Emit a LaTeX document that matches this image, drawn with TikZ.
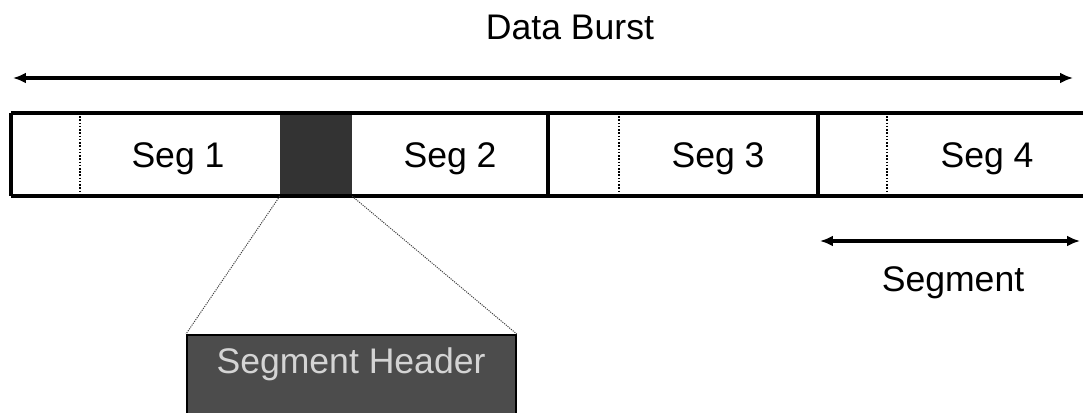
\documentclass[tikz,border=0pt]{standalone}
\usepackage{fontspec}
\setmainfont{Liberation Sans}
\usepackage{tikz}
\usetikzlibrary{arrows.meta, positioning}
\definecolor{headercolor}{rgb}{0.2, 0.2, 0.2}
\definecolor{boxcolor}{rgb}{0.3, 0.3, 0.3}
\definecolor{lettercolor}{rgb}{0.83, 0.83, 0.83}

\begin{document}
\begin{tikzpicture}[x=0.025cm, y=-0.025cm,
    every node/.style={font=\fontsize{25.3}{30}\selectfont},
    barline/.style={line width=2.4pt},
    gapline/.style={line width=1.6pt, dash pattern=on 1.1pt off 1.2pt},
    zoomline/.style={line width=0.7pt, dash pattern=on 0.8pt off 0.8pt, black!75},
    spanarrow/.style={line width=2.2pt, {Latex[length=0.32cm,width=0.27cm]}-{Latex[length=0.32cm,width=0.27cm]}}]
        \clip (0,0) rectangle (1083,413);

        % burst and its segments
        \node[fill=headercolor, minimum width=1.8cm, minimum height=2.075cm, inner sep=0pt] (hdr) at (316,154.5) {};

        \draw[barline] (11,113) -- (1100,113);
        \draw[barline] (11,196) -- (1100,196);
        \draw[barline] (11,113) -- (11,196);
        \foreach \x in {548, 818} \draw[barline] (\x,113) -- (\x,196);
        \foreach \x in {80, 619, 887} \draw[gapline] (\x,113) -- (\x,196);

        \node[anchor=base] (seg1) at (178,168) {Seg 1};
        \node[anchor=base] (seg2) at (450,168) {Seg 2};
        \node[anchor=base] (seg3) at (718,168) {Seg 3};
        \node[anchor=base] (seg4) at (987,168) {Seg 4};

        % lengths
        \node[anchor=base] (burst) at (570,40) {Data Burst};
        \coordinate (burstL) at (13,78);
        \coordinate (burstR) at (1073,78);
        \draw[spanarrow] (burstL) -- (burstR);

        \coordinate (segL) at (820,241);
        \coordinate (segR) at (1080,241);
        \draw[spanarrow] (segL) -- (segR);
        \node[anchor=base] (seglen) at (953,291) {Segment};

        % header blown up
        \node[fill=boxcolor, draw=black, line width=1.2pt, anchor=north west, minimum width=8.225cm, minimum height=2.5cm, inner sep=0pt] (shbox) at (186,334) {};
        \node[anchor=base, text=lettercolor] (shtext) at (351,373) {Segment Header};

        \draw[zoomline] (hdr.south west) -- (shbox.north west);
        \draw[zoomline] (hdr.south east) -- (shbox.north east);
\end{tikzpicture}
\end{document}
